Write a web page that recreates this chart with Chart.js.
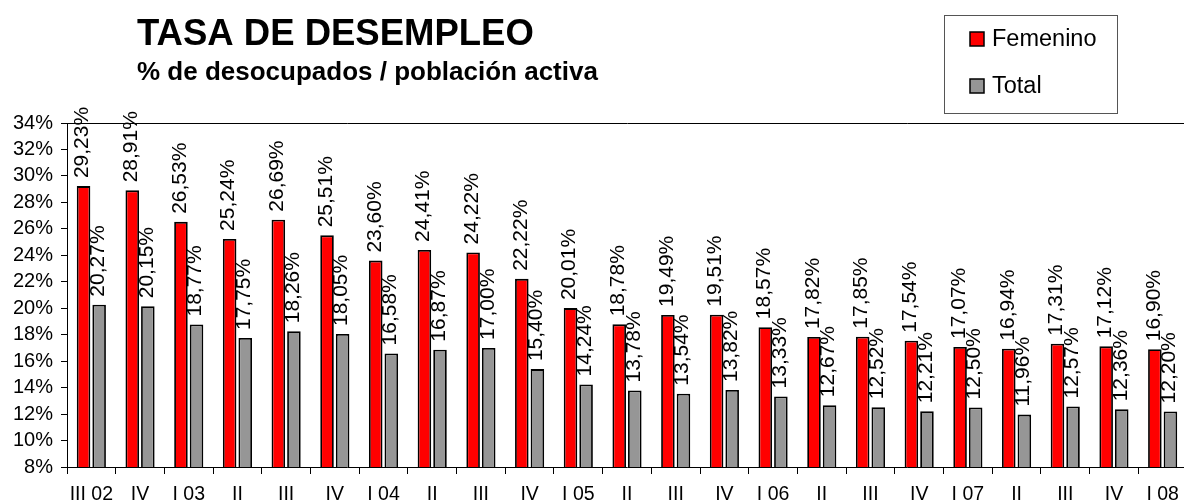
<!DOCTYPE html>
<html>
<head>
<meta charset="utf-8">
<title>Tasa de desempleo</title>
<script src="https://cdn.jsdelivr.net/npm/chart.js@4"></script>
<style>
    html, body { margin: 0; padding: 0; background: #fff; overflow: hidden; }
    #wrap { width: 1184px; height: 504px; overflow: hidden; }
</style>
</head>
<body>
<div id="wrap"><canvas id="desempleoChart" width="1190" height="504"></canvas></div>
<script>
// --- Data ---
const categories = ['III 02', 'IV', 'I 03', 'II', 'III', 'IV', 'I 04', 'II', 'III', 'IV', 'I 05',
    'II', 'III', 'IV', 'I 06', 'II', 'III', 'IV', 'I 07', 'II', 'III', 'IV', 'I 08'];
const femenino = [29.23, 28.91, 26.53, 25.24, 26.69, 25.51, 23.60, 24.41, 24.22, 22.22, 20.01,
    18.78, 19.49, 19.51, 18.57, 17.82, 17.85, 17.54, 17.07, 16.94, 17.31, 17.12, 16.90];
const total = [20.27, 20.15, 18.77, 17.75, 18.26, 18.05, 16.58, 16.87, 17.00, 15.40, 14.24,
    13.78, 13.54, 13.82, 13.33, 12.67, 12.52, 12.21, 12.50, 11.96, 12.57, 12.36, 12.20];
const seriesNames = ['Femenino', 'Total'];
const yMin = 8, yMax = 34, yStep = 2;

const FONT = '"Liberation Sans", Arial, sans-serif';

function pct(v) {
    return v.toFixed(2).replace('.', ',') + '%';
}

// --- Rotated value labels above each bar ---
const valueLabels = {
    id: 'valueLabels',
    afterDatasetsDraw(chart) {
        const ctx = chart.ctx;
        ctx.save();
        ctx.font = '21px ' + FONT;
        ctx.fillStyle = '#000';
        ctx.textAlign = 'left';
        ctx.textBaseline = 'middle';
        chart.data.datasets.forEach((ds, i) => {
            chart.getDatasetMeta(i).data.forEach((bar, j) => {
                ctx.save();
                ctx.translate(bar.x - 1, bar.y - 8);
                ctx.rotate(-Math.PI / 2);
                ctx.fillText(pct(ds.data[j]), 0, 0);
                ctx.restore();
            });
        });
        ctx.restore();
    }
};

// --- Title + legend box ---
const header = {
    id: 'header',
    afterDraw(chart) {
        const ctx = chart.ctx;
        ctx.save();
        ctx.fillStyle = '#000';
        ctx.textAlign = 'left';
        ctx.textBaseline = 'alphabetic';
        ctx.font = 'bold 36.5px ' + FONT;
        ctx.fillText('TASA DE DESEMPLEO', 137, 45);
        ctx.font = 'bold 26px ' + FONT;
        ctx.fillText('% de desocupados / población activa', 137, 80);

        // legend
        ctx.strokeStyle = '#555';
        ctx.lineWidth = 1;
        ctx.strokeRect(944.5, 15.5, 173, 98);
        ctx.font = '23.5px ' + FONT;
        chart.data.datasets.forEach((ds, i) => {
            const top = 32 + i * 47;
            ctx.fillStyle = ds.backgroundColor;
            ctx.fillRect(970, top, 14, 14);
            ctx.strokeStyle = '#000';
            ctx.lineWidth = 1.5;
            ctx.strokeRect(970, top, 14, 14);
            ctx.fillStyle = '#000';
            ctx.fillText(ds.label, 992, top + 14);
        });
        ctx.restore();
    }
};

const ctx = document.getElementById('desempleoChart').getContext('2d');
new Chart(ctx, {
    type: 'bar',
    data: {
        labels: categories,
        datasets: [
            {
                label: seriesNames[0],
                data: femenino,
                backgroundColor: '#FF0000',
                borderColor: '#000',
                borderWidth: 1.8
            },
            {
                label: seriesNames[1],
                data: total,
                backgroundColor: '#969696',
                borderColor: '#000',
                borderWidth: 1.8
            }
        ]
    },
    options: {
        responsive: false,
        animation: false,
        devicePixelRatio: 1,
        layout: { padding: { top: 123, right: 3, left: 0, bottom: 0 } },
        datasets: {
            bar: { categoryPercentage: 0.64, barPercentage: 0.87 }
        },
        plugins: {
            legend: { display: false },
            title: { display: false },
            tooltip: { enabled: false }
        },
        scales: {
            x: {
                afterFit(scale) { scale.height = 37; },
                grid: {
                    offset: true,
                    drawOnChartArea: false,
                    color: '#000',
                    tickColor: '#000',
                    tickLength: 7
                },
                border: { color: '#000', width: 1 },
                ticks: {
                    color: '#000',
                    font: { family: FONT, size: 19.5 },
                    padding: 9,
                    maxRotation: 0,
                    autoSkip: false
                }
            },
            y: {
                min: yMin,
                max: yMax,
                afterFit(scale) { scale.width = 67; },
                grid: {
                    color: c => (c.tick && c.tick.value === yMax ? '#000' : 'rgba(0,0,0,0)'),
                    tickColor: '#000',
                    tickLength: 6
                },
                border: { color: '#000', width: 1 },
                ticks: {
                    stepSize: yStep,
                    autoSkip: false,
                    color: '#000',
                    font: { family: FONT, size: 20 },
                    padding: 8,
                    callback: v => v + '%'
                }
            }
        }
    },
    plugins: [valueLabels, header]
});
</script>
</body>
</html>
